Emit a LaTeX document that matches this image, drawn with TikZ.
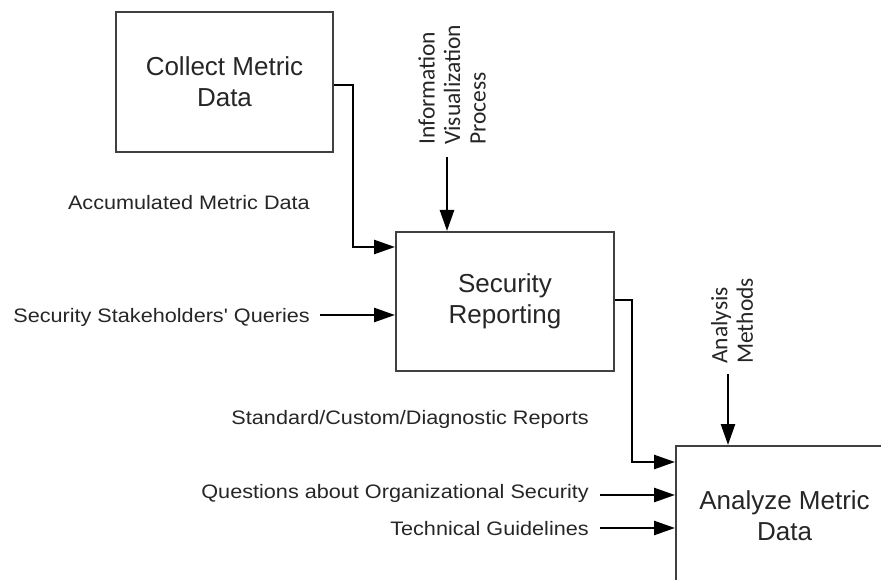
\documentclass[tikz,border=0pt]{standalone}
\usepackage{fontspec}
\setmainfont{Liberation Sans}
\newfontfamily\calibfont{Carlito}
\usetikzlibrary{arrows.meta,calc}
\newcommand\wideText[1]{\scalebox{1.11}[1]{#1}}
\begin{document}
\begin{tikzpicture}[x=1pt,y=-1pt,
  box/.style={draw=black!75,line width=2pt,rectangle,inner sep=0pt,
    text=black!85,align=center,font=\fontsize{26}{31}\selectfont},
  lbl/.style={inner sep=0pt,text=black!85,font=\fontsize{19.5}{23}\selectfont},
  vlbl/.style={inner sep=0pt,text=black!85,rotate=90,anchor=west,align=left,
    font=\calibfont\fontsize{23.5}{25.5}\selectfont},
  conn/.style={line width=2.6pt,-{Triangle[length=21pt,width=14pt]}},
  elbow/.style={line width=2.6pt,-{Triangle[length=21pt,width=14pt]}}]
\useasboundingbox (0,0) rectangle (881,580);
\path[clip] (0,0) rectangle (881,580);
% boxes
\node[box,minimum width=217pt,minimum height=140pt] (collect) at (224.5,82) {Collect Metric\\Data};
\node[box,minimum width=218pt,minimum height=139pt] (sr) at (505,301.5) {Security\\Reporting};
\node[box,minimum width=217pt,minimum height=139pt] (amd) at (784.5,515.5) {Analyze Metric\\Data};
% labels
\node[lbl,anchor=base east] (acc) at (310,210) {\wideText{Accumulated Metric Data}};
\node[lbl,anchor=base east] (ssq) at (310,322) {\wideText{Security Stakeholders\textquotesingle{} Queries}};
\node[lbl,anchor=base east] (rep) at (589,424) {\wideText{Standard/Custom/Diagnostic Reports}};
\node[lbl,anchor=base east] (qos) at (589,498) {\wideText{Questions about Organizational Security}};
\node[lbl,anchor=base east] (tg) at (589,535) {\wideText{Technical Guidelines}};
\node[vlbl] (ivp) at (452,145) {Information\\Visualization\\Process};
\node[vlbl] (am) at (732,364) {Analysis\\Methods};
% connector start points
\coordinate (ssqa) at (320,315);
\coordinate (qosa) at (600,495);
\coordinate (tga) at (600,528);
\coordinate (ivpa) at (447,157);
\coordinate (ama) at (728,374);
% connectors
\draw[elbow] ([yshift=-3pt]collect.east) -- ++(19,0) |- ([yshift=54.5pt]sr.west);
\draw[elbow] ([yshift=1.5pt]sr.east) -- ++(17,0) |- ([yshift=53.5pt]amd.west);
\draw[conn] (ssqa) -- (ssqa -| sr.west);
\draw[conn] (qosa) -- (qosa -| amd.west);
\draw[conn] (tga) -- (tga -| amd.west);
\draw[conn] (ivpa) -- (ivpa |- sr.north);
\draw[conn] (ama) -- (ama |- amd.north);
\end{tikzpicture}
\end{document}
